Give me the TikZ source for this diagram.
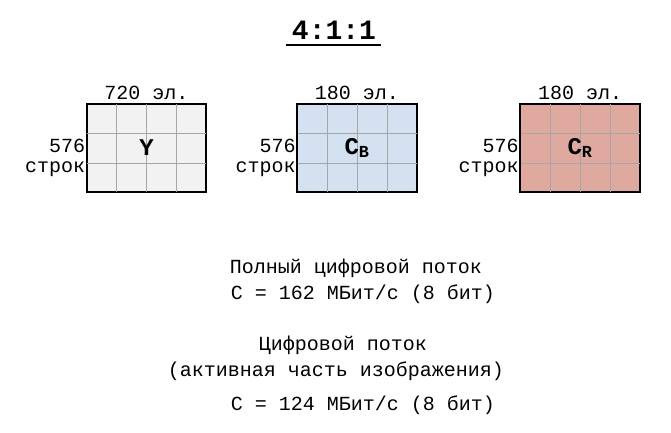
\documentclass[tikz,border=0pt]{standalone}
\usepackage{fontspec}
\setmainfont{Liberation Mono}
\usetikzlibrary{positioning,calc}
\definecolor{ybg}{HTML}{F2F2F2}
\definecolor{cbbg}{HTML}{D3E1F1}
\definecolor{crbg}{HTML}{E0A9A0}
\tikzset{
  plane/.style={draw, line width=1.2pt, minimum width=119pt, minimum height=88pt, inner sep=0pt},
  txt/.style={font=\fontsize{20}{22}\selectfont, inner sep=1pt},
  letter/.style={font=\bfseries\fontsize{24}{26}\selectfont}
}
\begin{document}
\begin{tikzpicture}[x=1pt,y=-1pt]
\useasboundingbox (0,0) rectangle (671,432);
\node[font=\bfseries\fontsize{28}{30}\selectfont] (T) at (334,30) {4:1:1};
\draw[line width=1.5pt] (286,45) -- (381,45);
% planes
\node (Y) [plane, fill=ybg] at (146.5,148) {};
\node (CB) [plane, fill=cbbg] at (357,148) {};
\node (CR) [plane, fill=crbg] at (580,148) {};
\foreach \p in {Y,CB,CR}{
  \foreach \f in {0.25,0.5,0.75}
    \draw[gray!70, line width=0.6pt] ($(\p.north west)!\f!(\p.north east)$) -- ($(\p.south west)!\f!(\p.south east)$);
  \foreach \f in {0.333,0.667}
    \draw[gray!70, line width=0.6pt] ($(\p.north west)!\f!(\p.south west)$) -- ($(\p.north east)!\f!(\p.south east)$);
  \draw[line width=1.2pt] (\p.north west) rectangle (\p.south east);
}
\node[letter] at (Y) {Y};
\node[letter] at (CB) {C$_{\mathbf{B}}$};
\node[letter] at (CR) {C$_{\mathbf{R}}$};
% sizes
\node[txt, above=3pt of Y] (Yw) {720 эл.};
\node[txt, above=3pt of CB] (CBw) {180 эл.};
\node[txt, above=3pt of CR] (CRw) {180 эл.};
\foreach \p in {Y,CB,CR}{
  \node[txt, anchor=east, align=right] at ([yshift=-10pt]\p.west) {576\\[-2pt]строк};
}
% rates
\node[txt] (R1) at (356,268) {Полный цифровой поток};
\node[txt] (R2) at (363,294) {C = 162 МБит/с (8 бит)};
\node[txt] (R3) at (343,345) {Цифровой поток};
\node[txt] (R4) at (336,371) {(активная часть изображения)};
\node[txt] (R5) at (363,405) {C = 124 МБит/с (8 бит)};
\end{tikzpicture}
\end{document}
